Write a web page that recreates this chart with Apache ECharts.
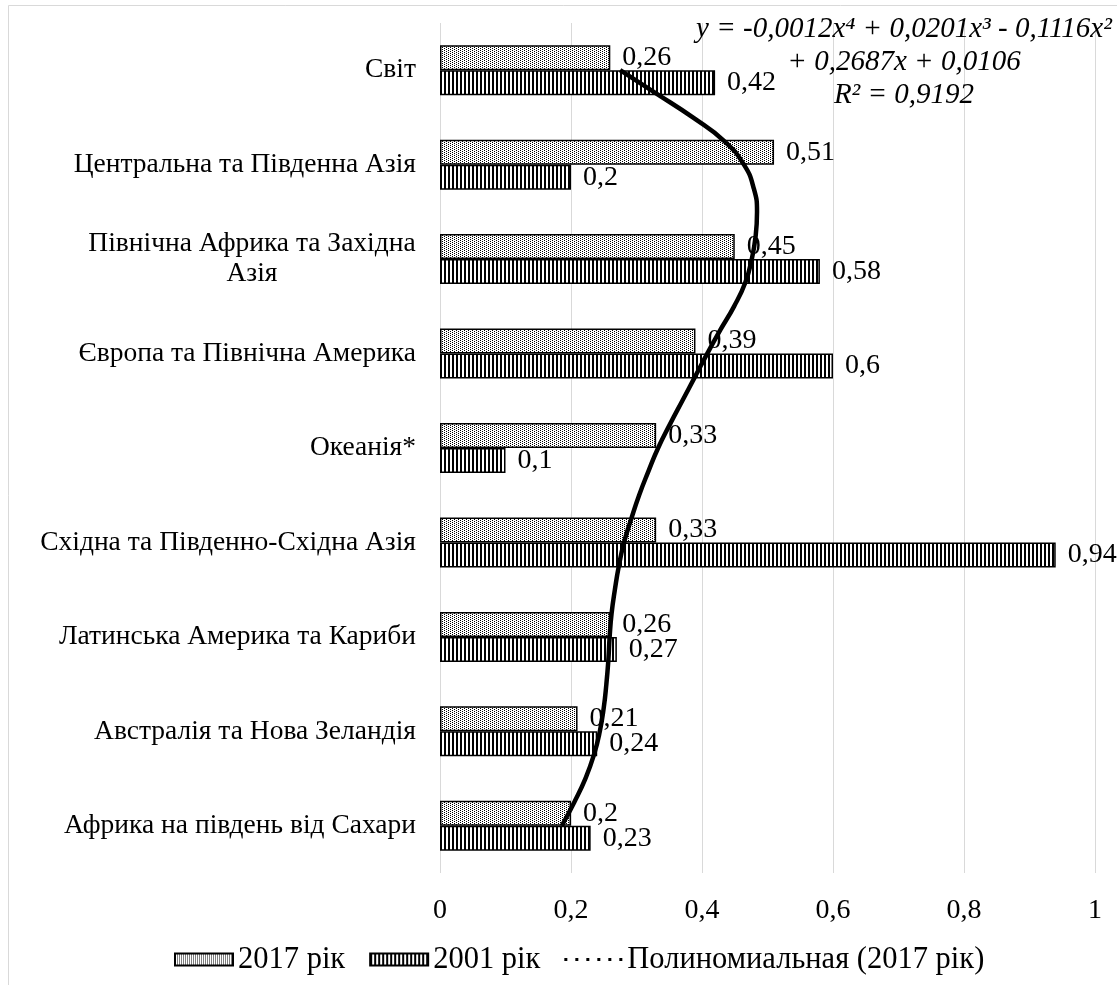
<!DOCTYPE html>
<html>
<head>
<meta charset="utf-8">
<script src="https://cdn.jsdelivr.net/npm/echarts@6/dist/echarts.min.js"></script>
<style>
    html, body { margin: 0; padding: 0; background: #fff; }
    #id-div-chart { width: 1117px; height: 985px; }
</style>
</head>
<body>
<div id="id-div-chart"></div>
<script>
// категорії зверху вниз
const categories = [
    'Світ',
    'Центральна та Південна Азія',
    'Північна Африка та Західна\nАзія',
    'Європа та Північна Америка',
    'Океанія*',
    'Східна та Південно-Східна Азія',
    'Латинська Америка та Кариби',
    'Австралія та Нова Зеландія',
    'Африка на південь від Сахари',
]
const values2017 = [0.26, 0.51, 0.45, 0.39, 0.33, 0.33, 0.26, 0.21, 0.2]
const values2001 = [0.42, 0.2, 0.58, 0.6, 0.1, 0.94, 0.27, 0.24, 0.23]

// лінія тренду: позиція категорії (0 = Світ) і значення
const trendPos = [0, 0.25, 0.5, 0.75, 1, 1.25, 1.5, 1.75, 2, 2.25, 2.5, 2.75, 3, 3.25,
    3.5, 3.75, 4, 4.25, 4.5, 4.75, 5, 5.25, 5.5, 5.75, 6, 6.25, 6.5, 6.75, 7, 7.25,
    7.5, 7.75, 8]
const trendValue = [0.275, 0.331, 0.386, 0.434, 0.464, 0.479, 0.484, 0.482, 0.476,
    0.466, 0.449, 0.428, 0.408, 0.389, 0.37, 0.351, 0.333, 0.318, 0.304, 0.292, 0.281,
    0.273, 0.267, 0.262, 0.259, 0.257, 0.254, 0.25, 0.244, 0.235, 0.222, 0.205, 0.186]

const xTicks = [0, 0.2, 0.4, 0.6, 0.8, 1]
const xTickLabels = ['0', '0,2', '0,4', '0,6', '0,8', '1']

const equation = 'y = -0,0012x⁴ + 0,0201x³ - 0,1116x²\n+ 0,2687x + 0,0106\nR² = 0,9192'

const serif = '"Liberation Serif", "Times New Roman", serif'

// візерунки для стовпців
const makePattern = function (w, h, draw) {
    let c = document.createElement('canvas')
    c.width = w
    c.height = h
    let ctx = c.getContext('2d')
    ctx.fillStyle = '#fff'
    ctx.fillRect(0, 0, w, h)
    ctx.fillStyle = '#000'
    draw(ctx)
    return { image: c, repeat: 'repeat' }
}

const dots = makePattern(4, 2, ctx => {
    ctx.fillRect(0, 0, 1, 1)
    ctx.fillRect(2, 1, 1, 1)
})

const stripes = makePattern(4, 4, ctx => {
    ctx.fillRect(0, 0, 2, 4)
})

// ширина тексту, щоб рядки підпису стояли по центру
const textWidth = function (s, size) {
    let ctx = document.createElement('canvas').getContext('2d')
    ctx.font = `${size}px ${serif}`
    return Math.ceil(ctx.measureText(s).width)
}

const catSize = 27.5

const categoryLabel = function (value) {
    if (value.indexOf('\n') < 0) {
        return value
    }
    let lines = value.split('\n')
    return lines.map(l => `{c|${l}}`).join('\n')
}

const multiWidth = function () {
    let w = 0
    for (let c of categories) {
        if (c.indexOf('\n') >= 0) {
            for (let l of c.split('\n')) {
                w = Math.max(w, textWidth(l, catSize))
            }
        }
    }
    return w
}

const numLabel = function (v) {
    return String(v).replace('.', ',')
}

const barLabel = {
    show: true,
    position: 'right',
    distance: 12,
    color: '#000',
    fontSize: 28,
    fontFamily: serif,
    formatter: p => numLabel(p.value),
}

const option = function () {
    let trend = trendPos.map((p, i) => [trendValue[i], p])
    let dotIcon = 'path://M0,0h3v3h-3z M11,0h3v3h-3z M22,0h3v3h-3z M33,0h3v3h-3z M44,0h3v3h-3z M55,0h3v3h-3z'
    return {
        animation: false,
        backgroundColor: '#fff',
        grid: { left: 440, right: 22, top: 23, bottom: 112 },
        legend: {
            left: 169,
            top: 939,
            itemWidth: 58,
            itemHeight: 12,
            itemGap: 24,
            textStyle: { fontSize: 30.5, fontFamily: serif, color: '#000' },
            data: [
                { name: '2017 рік', icon: 'rect' },
                { name: '2001 рік', icon: 'rect' },
                { name: 'Полиномиальная (2017 рік)', icon: dotIcon },
            ],
        },
        xAxis: {
            type: 'value',
            min: 0,
            max: 1,
            interval: 0.2,
            axisLine: { show: false },
            axisTick: { show: false },
            splitLine: { lineStyle: { color: '#d9d9d9', width: 1 } },
            axisLabel: {
                margin: 24,
                color: '#000',
                fontSize: 28,
                fontFamily: serif,
                formatter: v => {
                    let i = xTicks.findIndex(t => Math.abs(t - v) < 1e-6)
                    return i >= 0 ? xTickLabels[i] : ''
                },
            },
        },
        yAxis: [
            {
                type: 'category',
                inverse: true,
                data: categories,
                axisLine: { show: false },
                axisTick: { show: false },
                axisLabel: {
                    margin: 24,
                    color: '#000',
                    fontSize: catSize,
                    lineHeight: 30,
                    fontFamily: serif,
                    formatter: categoryLabel,
                    rich: {
                        c: {
                            width: multiWidth(),
                            align: 'center',
                            fontSize: catSize,
                            lineHeight: 30,
                            fontFamily: serif,
                            color: '#000',
                        },
                    },
                },
            },
            {
                type: 'value',
                min: -0.5,
                max: 8.5,
                inverse: true,
                show: false,
            },
        ],
        series: [
            {
                name: '2017 рік',
                type: 'bar',
                data: values2017,
                barWidth: 25,
                barGap: '0%',
                itemStyle: { color: dots, borderColor: '#000', borderWidth: 1.5 },
                label: barLabel,
            },
            {
                name: '2001 рік',
                type: 'bar',
                data: values2001,
                barWidth: 25,
                barGap: '0%',
                itemStyle: { color: stripes, borderColor: '#000', borderWidth: 1.5 },
                label: barLabel,
            },
            {
                name: 'Полиномиальная (2017 рік)',
                type: 'line',
                yAxisIndex: 1,
                data: trend,
                smooth: 0.5,
                symbol: 'none',
                itemStyle: { color: '#000' },
                lineStyle: { color: '#000', width: 4.5 },
                z: 5,
            },
        ],
        graphic: [
            {
                type: 'rect',
                shape: { x: 8.5, y: 5.5, width: 1120, height: 990 },
                style: { fill: 'none', stroke: '#d9d9d9', lineWidth: 1 },
                silent: true,
            },
            {
                type: 'text',
                x: 904,
                y: 13,
                z: 10,
                style: {
                    text: equation,
                    font: `italic 29px ${serif}`,
                    lineHeight: 33,
                    fill: '#000',
                    textAlign: 'center',
                    textVerticalAlign: 'top',
                },
            },
        ],
    }
}

const main = function () {
    let chart = echarts.init(document.querySelector('#id-div-chart'))
    chart.setOption(option())
}

main()
</script>
</body>
</html>
